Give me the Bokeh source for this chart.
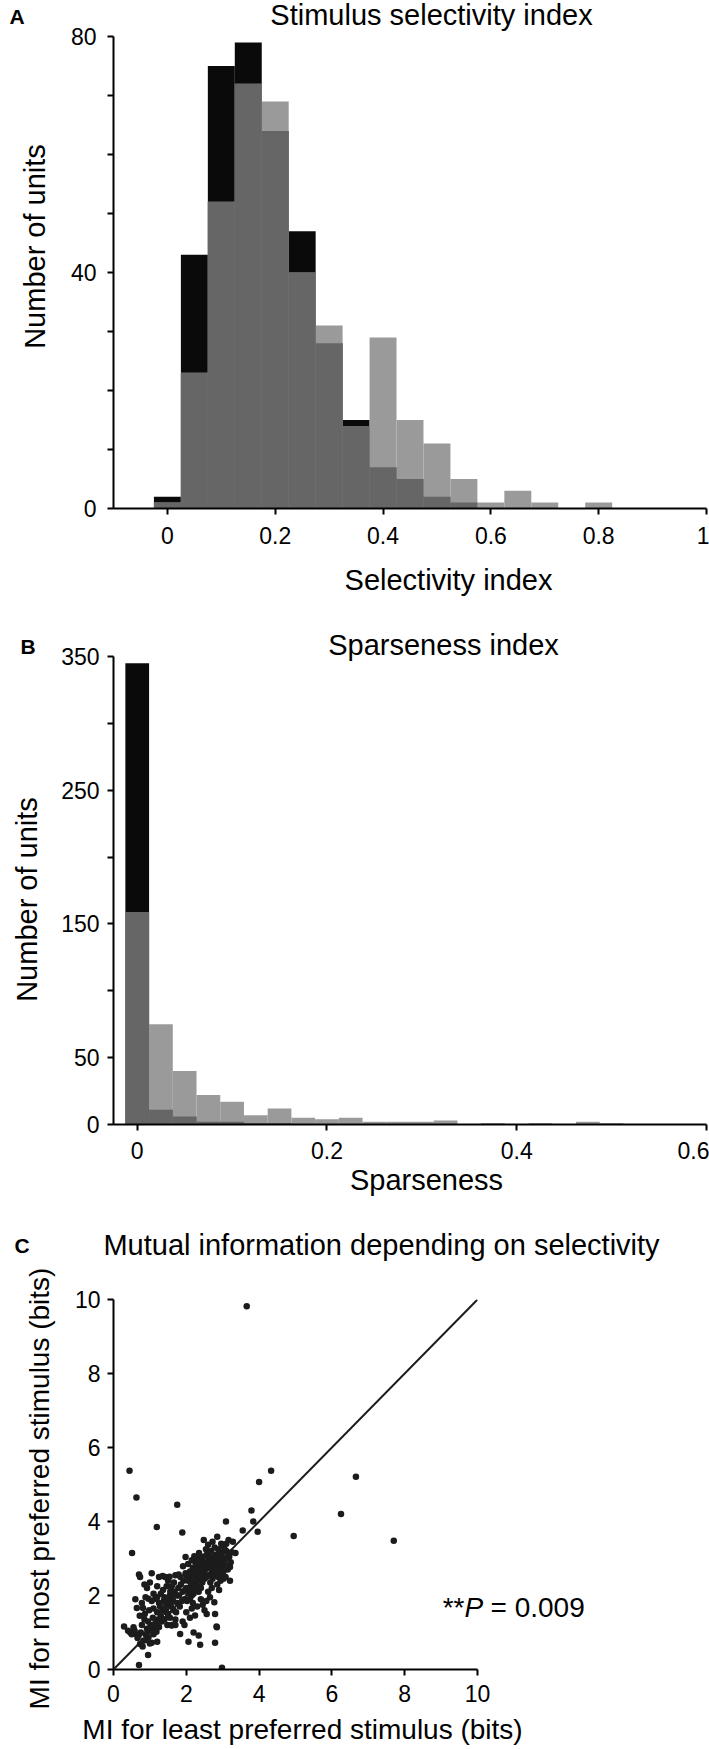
import numpy as np
from bokeh.plotting import figure
from bokeh.models import FixedTicker, NumeralTickFormatter, Label, Slope
from bokeh.layouts import column
from bokeh.embed import file_html
from bokeh.resources import INLINE

FONT = "Liberation Sans"
BLACK = "#0a0a0a"
DARK = "#666666"
LIGHT = "#9a9a9a"
DOT = "#1c1c1c"

# ---------------- Panel A: stimulus selectivity index histogram ----------------
sel_bin_centers = [0.00, 0.05, 0.10, 0.15, 0.20, 0.25, 0.30, 0.35, 0.40, 0.45,
                   0.50, 0.55, 0.60, 0.65, 0.70, 0.75, 0.80, 0.85, 0.90, 0.95]
sel_black = [2, 43, 75, 79, 64, 47, 28, 15, 7, 5, 2, 1, 0, 0, 0, 0, 0, 0, 0, 0]
sel_gray = [1, 23, 52, 72, 69, 40, 31, 14, 29, 15, 11, 5, 1, 3, 1, 0, 1, 0, 0, 0]
sel_bin_width = 0.05
sel_xticks = [0, 0.2, 0.4, 0.6, 0.8, 1.0]
sel_yticks = [0, 40, 80]
sel_yminor = [10, 20, 30, 50, 60, 70]

# ---------------- Panel B: sparseness index histogram ----------------
spa_bin_centers = [0.000, 0.025, 0.050, 0.075, 0.100, 0.125, 0.150, 0.175,
                   0.200, 0.225, 0.250, 0.275, 0.300, 0.325, 0.350, 0.375,
                   0.400, 0.425, 0.450, 0.475, 0.500, 0.525, 0.550, 0.575]
spa_black = [345, 11, 6, 2, 2, 1, 1, 0, 0, 0, 0, 0, 0, 0, 0, 0, 0, 0, 0, 0, 0, 0, 0, 0]
spa_gray = [159, 75, 40, 22, 17, 7, 12, 5, 4, 5, 2, 2, 2, 3, 0, 1, 0, 1, 0, 2, 1, 0, 0, 0]
spa_bin_width = 0.025
spa_xticks = [0, 0.2, 0.4, 0.6]
spa_yticks = [0, 50, 150, 250, 350]
spa_yminor = [100, 200, 300]

# ---------------- Panel C: mutual information scatter ----------------
mi_least = [
    3.66, 0.44, 0.63, 1.75, 1.19, 0.51, 1.89, 4.33, 4.00, 3.79,
    3.84, 3.96, 3.55, 3.09, 4.95, 6.25, 6.66, 7.70, 0.70, 2.98,
    0.95, 2.79, 2.38, 2.06, 1.20, 0.70, 0.85, 3.20, 2.83, 0.29,
    0.46, 0.55, 0.60, 0.69, 0.73, 0.82, 0.96, 1.05, 0.64, 0.81,
    0.50, 0.58, 0.75, 0.88, 0.92, 1.00, 1.10, 0.78, 0.85, 0.95,
    1.02, 1.08, 1.15, 1.20, 0.98, 1.10, 1.05, 0.96, 1.15, 0.90,
    0.66, 0.80, 1.12, 1.18, 0.86, 1.22, 0.40, 1.00, 1.25, 0.72,
    1.25, 1.30, 1.35, 1.40, 1.45, 1.50, 1.40, 1.30, 1.55, 1.60,
    1.70, 1.65, 1.75, 1.80, 1.60, 1.50, 1.42, 1.35, 1.54, 1.70,
    1.79, 1.85, 1.90, 1.95, 1.28, 1.33, 1.38, 1.45, 1.48, 1.52,
    1.58, 1.62, 1.68, 1.72, 1.78, 1.82, 1.88, 1.92, 1.97, 1.55,
    1.20, 1.36, 1.46, 1.64, 1.74, 1.84, 1.98, 1.66, 1.56, 1.44,
    2.00, 2.05, 1.91, 1.98, 2.10, 2.15, 2.20, 2.25, 2.22, 2.35,
    2.30, 2.35, 2.40, 2.45, 2.48, 2.02, 2.08, 2.12, 2.18, 2.24,
    2.28, 2.32, 2.38, 2.42, 2.46, 2.05, 2.15, 2.25, 2.40, 2.44,
    2.10, 2.20, 2.30, 2.36, 2.48, 2.14, 2.26, 2.34, 2.00, 2.18,
    2.06, 2.16, 2.28, 2.42, 2.50, 2.22, 2.38, 2.12, 2.32, 2.46,
    2.50, 2.55, 2.60, 2.60, 2.65, 2.70, 2.75, 2.80, 2.85, 2.85,
    2.90, 2.95, 3.00, 3.00, 3.05, 3.10, 3.16, 3.20, 3.25, 3.35,
    2.52, 2.56, 2.58, 2.62, 2.64, 2.68, 2.70, 2.72, 2.74, 2.76,
    2.78, 2.80, 2.82, 2.84, 2.86, 2.88, 2.90, 2.92, 2.94, 2.96,
    2.98, 3.02, 3.04, 3.06, 3.08, 3.12, 3.14, 3.18, 3.22, 3.28,
    2.54, 2.66, 2.72, 2.88, 2.96, 3.02, 3.10, 2.62, 2.78, 2.92,
    1.60, 1.70, 2.20, 2.34, 1.83, 2.24, 2.56, 2.79, 2.84, 2.77,
    2.50, 2.30, 2.10, 2.00, 1.90, 2.65, 2.40, 2.60, 2.70, 2.90,
    2.15, 2.45, 1.95, 2.55, 2.85,
    0.73, 0.92, 1.00, 1.10, 1.20, 0.88, 0.78, 1.25, 1.05, 0.60,
]
mi_most = [
    9.82, 5.37, 4.65, 4.45, 3.85, 3.15, 3.70, 5.37, 5.07, 4.30,
    4.00, 3.72, 3.76, 4.00, 3.61, 4.20, 5.21, 3.48, 0.12, 0.05,
    0.39, 0.72, 0.67, 0.75, 0.75, 2.57, 2.30, 2.40, 1.16, 1.16,
    1.00, 1.14, 0.96, 0.92, 0.69, 0.78, 0.87, 0.72, 1.66, 1.66,
    0.95, 1.05, 1.00, 0.95, 1.10, 1.05, 0.95, 1.20, 1.35, 1.30,
    1.20, 1.40, 1.25, 1.55, 1.60, 1.65, 1.85, 1.91, 1.91, 0.80,
    0.85, 0.62, 1.10, 1.02, 1.50, 1.35, 1.05, 0.70, 1.15, 1.45,
    1.80, 1.45, 1.60, 1.35, 1.75, 1.50, 1.95, 2.05, 2.00, 1.20,
    1.35, 1.60, 1.80, 2.00, 2.25, 2.40, 2.50, 2.53, 2.51, 2.55,
    2.57, 2.30, 2.10, 1.90, 1.70, 1.30, 1.85, 1.55, 1.20, 1.85,
    1.70, 1.95, 2.10, 1.55, 2.20, 1.70, 1.85, 2.40, 2.15, 1.40,
    1.95, 2.15, 2.25, 1.85, 2.00, 2.50, 2.60, 2.35, 2.10, 1.65,
    2.20, 2.40, 2.79, 3.04, 2.65, 2.00, 2.30, 2.55, 3.06, 3.15,
    2.80, 2.45, 2.20, 2.65, 3.50, 1.85, 2.10, 2.50, 2.75, 2.15,
    2.40, 2.60, 2.90, 2.50, 2.80, 2.85, 2.95, 2.90, 3.00, 2.35,
    1.90, 2.05, 2.25, 2.70, 2.60, 2.35, 2.70, 2.10, 2.55, 1.80,
    2.05, 2.60, 3.00, 2.75, 2.45, 2.45, 2.55, 2.25, 2.95, 3.05,
    2.90, 2.50, 3.37, 2.75, 3.05, 2.60, 2.85, 3.10, 3.59, 2.70,
    2.95, 2.60, 3.37, 2.80, 3.00, 3.20, 3.50, 2.77, 3.17, 3.15,
    2.70, 3.10, 2.85, 2.55, 2.95, 3.20, 2.80, 2.45, 3.00, 2.65,
    3.30, 2.90, 2.55, 3.05, 2.85, 3.25, 2.70, 3.10, 2.40, 2.95,
    3.15, 2.65, 3.30, 2.85, 2.50, 3.00, 2.70, 3.05, 2.90, 3.45,
    3.25, 2.35, 3.45, 2.50, 3.40, 2.45, 3.40, 3.00, 2.75, 2.85,
    1.19, 1.20, 1.00, 0.92, 0.96, 1.46, 1.50, 1.50, 1.14, 1.82,
    1.60, 1.70, 1.40, 1.55, 1.30, 1.95, 1.90, 2.10, 2.20, 2.15,
    1.65, 1.75, 1.20, 1.85, 2.30,
    2.50, 2.20, 2.35, 2.05, 2.25, 1.95, 1.80, 2.50, 2.60, 1.90,
]
mi_ticks = [0, 2, 4, 6, 8, 10]
p_value_text = "= 0.009"


def make_fig(fw, fh, left, right, top, bottom, xr, yr):
    p = figure(frame_width=fw, frame_height=fh,
               min_border_left=left, min_border_right=right,
               min_border_top=top, min_border_bottom=bottom,
               x_range=xr, y_range=yr,
               toolbar_location=None, output_backend="svg")
    p.xgrid.visible = False
    p.ygrid.visible = False
    p.outline_line_color = None
    p.background_fill_color = "white"
    p.border_fill_color = "white"
    return p


def style_axis(ax, ticks, minor, standoff, fmt=None):
    ax.ticker = FixedTicker(ticks=ticks, minor_ticks=minor)
    if fmt is not None:
        ax.formatter = fmt
    ax.axis_line_color = "black"
    ax.axis_line_width = 2
    ax.major_tick_line_color = "black"
    ax.major_tick_line_width = 2
    ax.major_tick_in = 0
    ax.major_tick_out = 6
    ax.minor_tick_line_color = "black"
    ax.minor_tick_line_width = 2
    ax.minor_tick_in = 0
    ax.minor_tick_out = 6
    ax.major_label_text_font = FONT
    ax.major_label_text_font_size = "23px"
    ax.major_label_text_color = "black"
    ax.major_label_standoff = standoff


def add_text(p, side, x, y, text, size="29px", align="center", angle=0.0,
             style="normal"):
    # placed in a side panel (not clipped to the frame); anchored at text middle
    p.add_layout(Label(x=x, y=y, text=text, text_font=FONT,
                       text_font_size=size, text_align=align,
                       text_baseline="middle", angle=angle,
                       text_font_style=style, text_color="black"), side)


def draw_hist(p, centers, black, gray, width):
    c = np.asarray(centers, dtype=float)
    b = np.asarray(black, dtype=float)
    g = np.asarray(gray, dtype=float)
    left = c - width / 2.0
    right = c + width / 2.0
    p.quad(left=left, right=right, bottom=0, top=b, fill_color=BLACK, line_color=None)
    p.quad(left=left, right=right, bottom=0, top=g, fill_color=LIGHT, line_color=None)
    p.quad(left=left, right=right, bottom=0, top=np.minimum(b, g),
           fill_color=DARK, line_color=None)


fmt = NumeralTickFormatter(format="0.[0]")

# ---------------- Figure A (page y 0..613) ----------------
A_X0, A_X1, A_Y1 = -0.1, 1.0, 80.0
pA = make_fig(593, 472, 112, 4, 36, 105, (A_X0, A_X1), (0, A_Y1))
ax_ = lambda px: A_X0 + (px - 112) * (A_X1 - A_X0) / 593
ay_ = lambda py: (508 - py) * A_Y1 / 472
draw_hist(pA, sel_bin_centers, sel_black, sel_gray, sel_bin_width)
style_axis(pA.xaxis[0], sel_xticks, [], 12, fmt)
style_axis(pA.yaxis[0], sel_yticks, sel_yminor, 11)
add_text(pA, "left", ax_(8), ay_(15.6), "A", size="21px", align="left", style="bold")
add_text(pA, "above", ax_(430), ay_(14), "Stimulus selectivity index")
add_text(pA, "left", ax_(33), ay_(246), "Number of units", angle=np.pi / 2)
add_text(pA, "below", ax_(447), ay_(579), "Selectivity index")

# ---------------- Figure B (page y 613..1222) ----------------
B_X0, B_X1, B_Y1 = -0.025, 0.6, 350.0
pB = make_fig(593, 468, 99, 17, 43, 98, (B_X0, B_X1), (0, B_Y1))
bx_ = lambda px: B_X0 + (px - 99) * (B_X1 - B_X0) / 593
by_ = lambda py: (1124 - py) * B_Y1 / 468
draw_hist(pB, spa_bin_centers, spa_black, spa_gray, spa_bin_width)
style_axis(pB.xaxis[0], spa_xticks, [], 11, fmt)
style_axis(pB.yaxis[0], spa_yticks, spa_yminor, 8)
add_text(pB, "right", bx_(6), by_(645.6), "B", size="21px", align="left", style="bold")
add_text(pB, "above", bx_(429), by_(644), "Sparseness index")
add_text(pB, "left", bx_(12), by_(899), "Number of units", angle=np.pi / 2)
add_text(pB, "below", bx_(412), by_(1179), "Sparseness")

# ---------------- Figure C (page y 1222..1747) ----------------
C_MAX = 10.0
pC = make_fig(364, 370, 113, 232, 77, 78, (0, C_MAX), (0, C_MAX))
cx_ = lambda px: (px - 113) * C_MAX / 364
cy_ = lambda py: (1669 - py) * C_MAX / 370
pC.add_layout(Slope(gradient=1, y_intercept=0, line_color=DOT, line_width=2))
pC.scatter(mi_least, mi_most, size=6.5, color=DOT, line_color=None)
style_axis(pC.xaxis[0], mi_ticks, [], 9)
style_axis(pC.yaxis[0], mi_ticks, [], 7)
add_text(pC, "left", cx_(14), cy_(1244.6), "C", size="21px", align="left", style="bold")
add_text(pC, "above", cx_(381), cy_(1244), "Mutual information depending on selectivity")
add_text(pC, "left", cx_(39), cy_(1488), "MI for most preferred stimulus (bits)",
         size="28px", angle=np.pi / 2)
add_text(pC, "above", cx_(302), cy_(1729), "MI for least preferred stimulus (bits)", size="28px")
add_text(pC, "right", cx_(464), cy_(1607), "**", size="28px", align="right")
add_text(pC, "right", cx_(464), cy_(1607), "P", size="28px", align="left", style="italic")
add_text(pC, "right", cx_(490), cy_(1607), p_value_text, size="28px", align="left")

layout = column(pA, pB, pC)
open("out.html", "w").write(file_html(layout, INLINE))
